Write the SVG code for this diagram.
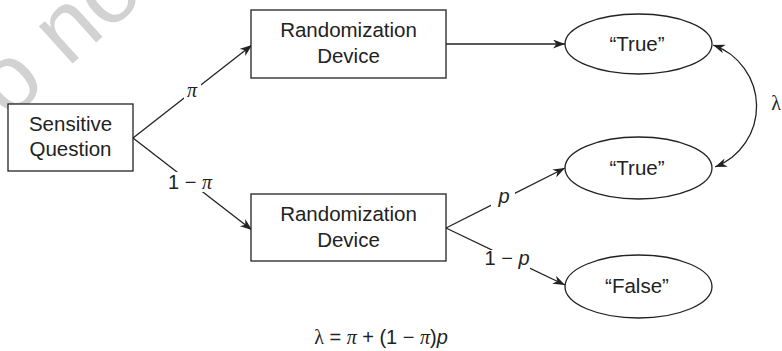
<svg xmlns="http://www.w3.org/2000/svg" width="782" height="351" viewBox="0 0 782 351">
<style>
  .node rect, .node ellipse { fill: #ffffff; stroke: #222; stroke-width: 1.3; }
  .t { font-family: "Liberation Sans", Arial, sans-serif; font-size: 20.5px; fill: #222; text-anchor: middle; }
  .conn line, .conn path { stroke: #222; stroke-width: 1.3; fill: none; marker-end: url(#ah); }
  .lbl { font-family: "Liberation Sans", Arial, sans-serif; font-size: 20px; fill: #222; text-anchor: middle; }
  .g { font-family: "Liberation Serif", "Times New Roman", serif; font-style: italic; }
  .gl { font-family: "Liberation Serif", "Times New Roman", serif; }
  .it { font-style: italic; }
  .gap { fill: #ffffff; }
</style>
<defs>
  <marker id="ah" viewBox="0 0 12 9" refX="12" refY="4.5" markerWidth="12" markerHeight="9" markerUnits="userSpaceOnUse" orient="auto-start-reverse">
    <path d="M0,0 L12,4.5 L0,9 L3.5,4.5 z" fill="#222"/>
  </marker>
</defs>
<rect width="782" height="351" fill="#ffffff"/>
<text transform="translate(-42,167) rotate(-42)" font-family="Liberation Sans, Arial, sans-serif" font-size="95" fill="#d2d2d2">Do not</text>

<g class="conn">
  <line x1="133" y1="138" x2="252" y2="45"/>
  <line x1="133" y1="138" x2="252" y2="230"/>
  <line x1="446" y1="44" x2="565" y2="44"/>
  <line x1="446" y1="228" x2="565" y2="168"/>
  <line x1="446" y1="228" x2="565" y2="285"/>
  <path d="M713,45 A65,65 0 0 1 715,167" style="marker-start:url(#ah)"/>
  <rect class="gap" x="184" y="82" width="17" height="18"/>
  <text class="lbl g" x="192" y="97">π</text>
  <rect class="gap" x="166" y="172" width="49" height="20"/>
  <text class="lbl" x="190" y="189">1 − <tspan class="g">π</tspan></text>
  <rect class="gap" x="491" y="190" width="24" height="20"/>
  <text class="lbl it" x="504" y="203">p</text>
  <rect class="gap" x="484" y="250" width="46" height="20"/>
  <text class="lbl" x="507" y="265">1 − <tspan class="it">p</tspan></text>
  <text class="lbl gl" x="776" y="110">λ</text>
</g>

<g id="sensitive" class="node">
  <rect x="8" y="104" width="125" height="67"/>
  <text class="t" x="70.5" y="131">Sensitive</text>
  <text class="t" x="70.5" y="156">Question</text>
</g>
<g id="rand1" class="node">
  <rect x="251" y="10" width="195" height="68"/>
  <text class="t" x="348.5" y="37">Randomization</text>
  <text class="t" x="348.5" y="63">Device</text>
</g>
<g id="rand2" class="node">
  <rect x="251" y="194" width="195" height="67"/>
  <text class="t" x="348.5" y="221">Randomization</text>
  <text class="t" x="348.5" y="247">Device</text>
</g>
<g id="true1" class="node">
  <ellipse cx="638.5" cy="44" rx="73.5" ry="30"/>
  <text class="t" x="637" y="51">“True”</text>
</g>
<g id="true2" class="node">
  <ellipse cx="638.5" cy="168" rx="73.5" ry="31"/>
  <text class="t" x="637" y="175">“True”</text>
</g>
<g id="false" class="node">
  <ellipse cx="638.5" cy="286.5" rx="73.5" ry="31.5"/>
  <text class="t" x="637" y="293">“False”</text>
</g>

<text class="lbl" x="381" y="344" font-size="19"><tspan class="gl">λ</tspan> = <tspan class="g">π</tspan> + (1 − <tspan class="g">π</tspan>)<tspan class="it">p</tspan></text>
</svg>
